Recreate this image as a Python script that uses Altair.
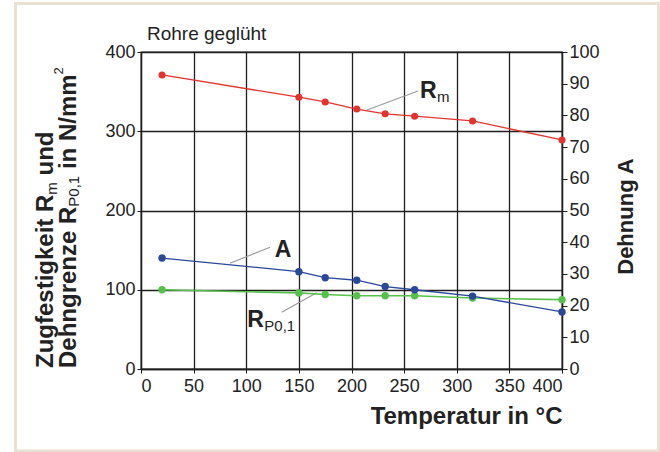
import altair as alt
import pandas as pd

# Measured values: Rohre geglüht
temps = [20, 150, 175, 205, 232, 260, 315, 400]          # Temperatur in °C
rm = [371, 343, 337, 328, 322, 319, 313, 289]             # Zugfestigkeit R_m, N/mm²
rp = [100, 96, 94, 92.5, 92.5, 92.5, 89.5, 87.5]          # Dehngrenze R_P0,1, N/mm²
dehnung = [35, 30.7, 28.8, 28, 26, 25, 23, 18]            # Dehnung A, %

# Curve labels (left-axis units) and their leader lines
label_x = [265, 127, 101]
label_y = [342, 141, 53]
label_main = ["R", "A", "R"]
sub_x = [265, 101]
sub_y = [342, 53]
sub_text = ["m", "P0,1"]
leader_x0 = [214.7, 84.6, 133.7]
leader_y0 = [326.8, 133.4, 71.5]
leader_x1 = [263.2, 122.6, 166.9]
leader_y1 = [350.8, 153.6, 96.3]

FONT = "Liberation Sans"
INK = "#222222"
GRID = "#1f1f1f"
RED = "#e2332f"
BLUE = "#2b4898"
GREEN = "#57c04c"
LEADER = "#9c9c9c"
FRAME = "#ecdfd3"
W, H = 421, 317

df = pd.DataFrame({"T": temps, "Rm": rm, "Rp": rp, "A": dehnung})
labels = pd.DataFrame({"x": label_x, "y": label_y, "t": label_main})
subs = pd.DataFrame({"x": sub_x, "y": sub_y, "t": sub_text})
leaders = pd.DataFrame({"x0": leader_x0, "y0": leader_y0, "x1": leader_x1, "y1": leader_y1})
one = pd.DataFrame({"k": [0]})

x_scale = alt.Scale(domain=[0, 400], nice=False, zero=False)
x_axis = alt.Axis(
    values=list(range(0, 401, 50)), grid=True, gridColor=GRID, gridWidth=1.3,
    domainColor=GRID, domainWidth=1.3, tickColor=GRID, tickSize=4, labelPadding=4,
    labelFont=FONT, labelFontSize=18, labelColor=INK,
    title="Temperatur in °C", titleFont=FONT, titleFontSize=24, titleFontWeight="bold",
    titleColor=INK, titleX=W, titleY=54, titleAlign="right", titleBaseline="alphabetic",
)
left_scale = alt.Scale(domain=[0, 400], nice=False)
left_axis = alt.Axis(
    values=[0, 100, 200, 300, 400], grid=True, gridColor=GRID, gridWidth=1.3,
    domainColor=GRID, domainWidth=1.3, tickColor=GRID, tickSize=4, labelPadding=2,
    labelFont=FONT, labelFontSize=18, labelColor=INK, title=None,
)
right_axis = alt.Axis(
    orient="right", values=list(range(0, 101, 10)), grid=False,
    domainColor=GRID, domainWidth=1.3, tickColor=GRID, tickSize=5, labelPadding=2,
    labelFont=FONT, labelFontSize=18, labelColor=INK,
    title="Dehnung A", titleFont=FONT, titleFontSize=22, titleFontWeight="bold",
    titleColor=INK, titleAngle=270, titleX=70, titleY=164, titleAlign="center",
    titleBaseline="alphabetic",
)


def xq(field):
    return alt.X(f"{field}:Q", scale=x_scale, axis=x_axis)


def yl(field):
    return alt.Y(f"{field}:Q", scale=left_scale, axis=left_axis)


# Outer frame
frame = alt.Chart(one).mark_rect(fillOpacity=0, stroke=FRAME, strokeWidth=3).encode(
    x=alt.value(-125.5), x2=alt.value(517.5), y=alt.value(-48.5), y2=alt.value(399)
)

# Heading above the plot
heading = alt.Chart(one).mark_text(
    text="Rohre geglüht", align="left", baseline="alphabetic",
    font=FONT, fontSize=19, color=INK,
).encode(x=alt.value(6), y=alt.value(-12))

base = alt.Chart(df)
rm_line = base.mark_line(color=RED, strokeWidth=1.3).encode(x=xq("T"), y=yl("Rm"))
rm_pts = base.mark_circle(color=RED, size=50, opacity=1).encode(x=xq("T"), y=yl("Rm"))
rp_line = base.mark_line(color=GREEN, strokeWidth=1.6).encode(x=xq("T"), y=yl("Rp"))
rp_pts = base.mark_circle(color=GREEN, size=55, opacity=1).encode(x=xq("T"), y=yl("Rp"))

lead = alt.Chart(leaders).mark_rule(color=LEADER, strokeWidth=1.2).encode(
    x=xq("x0"), x2="x1", y=yl("y0"), y2="y1"
)
main_txt = alt.Chart(labels).mark_text(
    align="left", baseline="alphabetic", font=FONT, fontSize=23, fontWeight="bold", color=INK
).encode(x=xq("x"), y=yl("y"), text="t:N")
sub_txt = alt.Chart(subs).mark_text(
    align="left", baseline="alphabetic", font=FONT, fontSize=15, color=INK, dx=17, dy=4
).encode(x=xq("x"), y=yl("y"), text="t:N")

# Left axis title, two rotated lines built from bold / sub / superscript pieces
BOLD = {" ": 278, "A": 722, "D": 722, "N": 722, "R": 722, "Z": 611, "P": 667,
        "d": 611, "e": 556, "f": 333, "g": 611, "h": 611, "i": 278, "k": 556,
        "m": 889, "n": 611, "r": 389, "s": 556, "t": 333, "u": 611, "z": 500, "/": 278}
REG = {"m": 833, "P": 667, "0": 556, ",": 278, "1": 556, "2": 556}


def text_len(s, size, weight):
    table = BOLD if weight == "bold" else REG
    return sum(table[c] for c in s) * size / 1000.0


title_lines = [
    (-88, [("Zugfestigkeit R", 24, "bold", 0), ("m", 15, "normal", 4), (" und", 24, "bold", 0)]),
    (-65, [("Dehngrenze R", 24, "bold", 0), ("P0,1", 15, "normal", 3),
           (" in N/mm", 24, "bold", 0), ("2", 13, "normal", -13)]),
]
title_parts = []
for base_x, pieces in title_lines:
    pos = 316.0
    for txt, size, weight, shift in pieces:
        # leading blanks are not rendered, so advance past them first
        stripped = txt.lstrip(" ")
        pos -= text_len(txt[: len(txt) - len(stripped)], size, weight)
        title_parts.append(
            alt.Chart(one).mark_text(
                text=stripped, angle=270, align="left", baseline="alphabetic",
                font=FONT, fontSize=size, fontWeight=weight, color=INK,
            ).encode(x=alt.value(base_x + shift), y=alt.value(pos))
        )
        pos -= text_len(stripped, size, weight)

left = alt.layer(frame, heading, *title_parts, lead, rm_line, rp_line, rm_pts, rp_pts,
                 main_txt, sub_txt)

right_y = alt.Y("A:Q", scale=alt.Scale(domain=[0, 100], nice=False), axis=right_axis)
a_line = base.mark_line(color=BLUE, strokeWidth=1.3).encode(x=xq("T"), y=right_y)
a_pts = base.mark_circle(color=BLUE, size=55, opacity=1).encode(x=xq("T"), y=right_y)
right = alt.layer(a_line, a_pts)

chart = (
    alt.layer(left, right)
    .resolve_scale(y="independent")
    .properties(
        width=W, height=H, autosize="none",
        padding={"left": 141, "top": 52, "right": 98, "bottom": 83},
        background="white",
    )
    .configure_view(stroke=GRID, strokeWidth=1.3)
)

chart.save("out.html", embed_options={"renderer": "svg", "actions": False})
